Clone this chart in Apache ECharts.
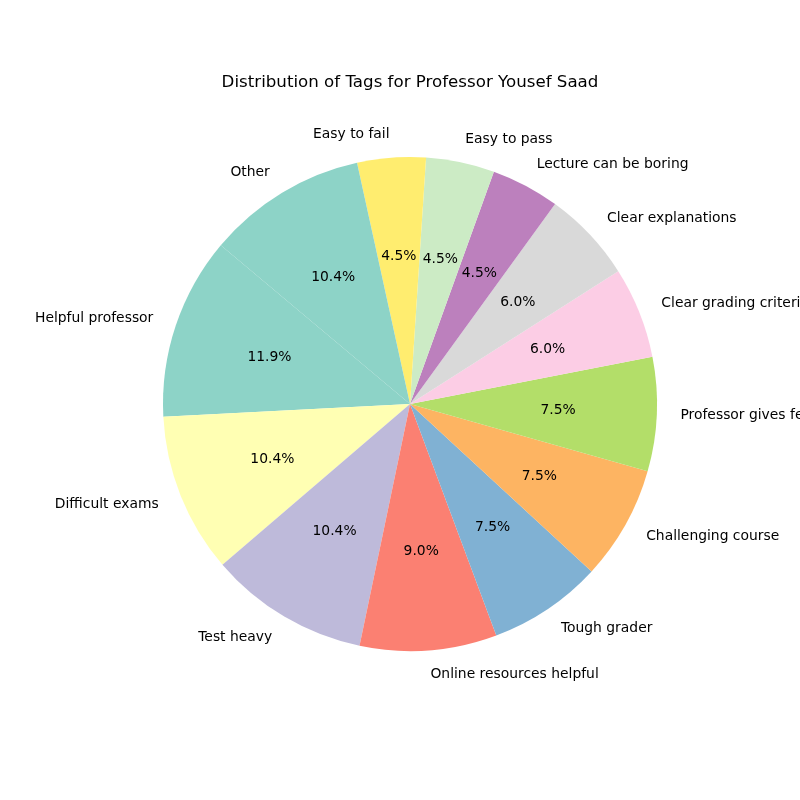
<!DOCTYPE html>
<html>
<head>
<meta charset="utf-8">
<script src="https://cdn.jsdelivr.net/npm/echarts@6/dist/echarts.min.js"></script>
<style>html,body{margin:0;padding:0;background:#fff}#c{width:800px;height:800px}</style>
</head>
<body>
<div id="c"></div>
<script>
var categories = ["Helpful professor","Difficult exams","Test heavy","Online resources helpful","Tough grader","Challenging course","Professor gives feedback","Clear grading criteria","Clear explanations","Lecture can be boring","Easy to pass","Easy to fail","Other"];
var counts = [8,7,7,6,5,5,5,4,4,3,3,3,7];
var colors = ["#8dd3c7","#ffffb3","#bebada","#fb8072","#80b1d3","#fdb462","#b3de69","#fccde5","#d9d9d9","#bc80bd","#ccebc5","#ffed6f","#8dd3c7"];
var titleText = "Distribution of Tags for Professor Yousef Saad";

var total = counts.reduce(function(a,b){return a+b;},0);
var R = 247, CX = 410, CY = 404;
var FONT = "DejaVu Sans";

var data1 = categories.map(function(n,i){return {name:n,value:counts[i],itemStyle:{color:colors[i]}};});
var data2 = categories.map(function(n,i){return {name:n,value:counts[i],itemStyle:{color:'rgba(0,0,0,0)'}};});

var chart = echarts.init(document.getElementById('c'), null, {renderer:'canvas'});
chart.setOption({
  animation:false,
  backgroundColor:'#ffffff',
  title:{text:titleText,left:405,top:69,textAlign:'center',
    textStyle:{fontFamily:FONT,fontSize:16.67,fontWeight:'normal',color:'#000'}},
  series:[
    {type:'pie',center:[CX,CY],radius:[0,R],startAngle:140,clockwise:false,
     avoidLabelOverlap:false,silent:true,
     itemStyle:{borderWidth:0},
     label:{show:true,position:'outside',formatter:'{b}',distanceToLabelLine:0,
       fontFamily:FONT,fontSize:13.89,color:'#000'},
     labelLine:{show:false,length:R*0.1-1,length2:0},
     emphasis:{disabled:true},
     data:data1},
    {type:'pie',center:[CX,CY],radius:[0,(R*0.6-3)*2],startAngle:140,clockwise:false,
     avoidLabelOverlap:false,silent:true,
     itemStyle:{borderWidth:0},
     label:{show:true,position:'inside',
       formatter:function(p){return (p.value/total*100).toFixed(1)+'%';},
       fontFamily:FONT,fontSize:13.89,color:'#000'},
     labelLine:{show:false},
     emphasis:{disabled:true},
     data:data2}
  ]
});
</script>
</body>
</html>
